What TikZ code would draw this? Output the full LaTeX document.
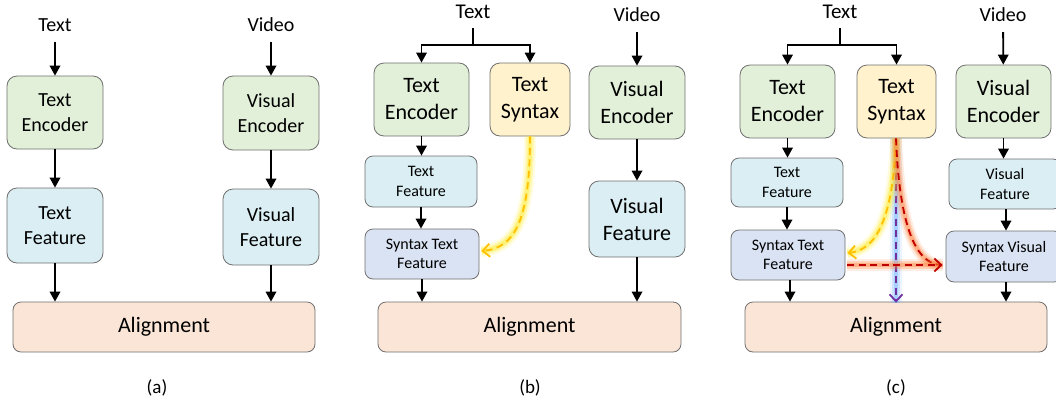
\documentclass[tikz,border=0pt]{standalone}
\usepackage{fontspec}
\setmainfont{Carlito}
\usetikzlibrary{arrows.meta,calc}
\definecolor{encfill}{HTML}{E2F0D9}
\definecolor{featfill}{HTML}{DAEEF3}
\definecolor{synfeat}{HTML}{DAE3F3}
\definecolor{synfill}{HTML}{FFF2CC}
\definecolor{alfill}{HTML}{FBE5D6}
\definecolor{bord}{HTML}{6F6F6F}
\definecolor{ylw}{HTML}{FFC000}
\definecolor{ylwglow}{HTML}{FFEA20}
\definecolor{rd}{HTML}{C00000}
\definecolor{rdglow}{HTML}{FF7A30}
\definecolor{prp}{HTML}{7030A0}
\definecolor{bluglow}{HTML}{6FAEFF}
\begin{document}
\begin{tikzpicture}[x=1pt,y=-1pt,
  box/.style={draw=bord, line width=0.8pt, rounded corners=10pt, align=center, inner sep=0pt},
  sz/.style 2 args={minimum width=#1pt, minimum height=#2pt},
  enc/.style={box, fill=encfill},
  feat/.style={box, fill=featfill},
  sfeat/.style={box, fill=synfeat, rounded corners=8pt},
  syn/.style={box, fill=synfill},
  algn/.style={box, fill=alfill, rounded corners=8pt, font=\fontsize{22}{26}\selectfont},
  fa/.style={font=\fontsize{20}{25}\selectfont},
  fb/.style={font=\fontsize{22}{27}\selectfont},
  fs/.style={font=\fontsize{16}{19.5}\selectfont},
  lbl/.style={inner sep=0pt},
  subcap/.style={inner sep=0pt, font=\fontsize{19}{23}\selectfont},
  arr/.style={line width=1.8pt, -{Triangle[length=10pt,width=10.5pt]}},
  ln/.style={line width=1.8pt},
  glow/.style={preaction={draw, solid, -, line width=12pt, opacity=.14, color=#1},
               preaction={draw, solid, -, line width=8pt, opacity=.24, color=#1},
               preaction={draw, solid, -, line width=4.5pt, opacity=.38, color=#1}},
  dsh/.style={line width=1.8pt, dash pattern=on 7pt off 4.5pt},
  barb/.style={-{Straight Barb[length=7pt,width=13pt]}}
]
\useasboundingbox (0,0) rectangle (1056,405);

% ---------- panel (a)
\node[lbl, fa] (txtA) at (55,25) {Text};
\node[lbl, fa] (vidA) at (271,25) {Video};
\node[enc, fa, sz={96}{73}] (teA) at (55,112.5) {Text\\Encoder};
\node[feat, fa, sz={96}{75}] (tfA) at (55,225.5) {Text\\Feature};
\node[enc, fa, sz={96}{74}] (veA) at (271,113) {Visual\\Encoder};
\node[feat, fa, sz={96}{76}] (vfA) at (271,227) {Visual\\Feature};
\node[algn, sz={302}{50}] (alA) at (164,327) {Alignment};
\node[subcap] (capA) at (157,388) {(a)};
\draw[arr, shorten <=10pt] (txtA) -- (teA);
\draw[arr, shorten <=10pt] (vidA) -- (veA);
\draw[arr] (teA) -- (tfA);
\draw[arr] (veA) -- (vfA);
\draw[arr] (tfA.south) -- (tfA.south |- alA.north);
\draw[arr] (vfA.south) -- (vfA.south |- alA.north);

% ---------- panel (b)
\node[lbl, font=\fontsize{21}{25}\selectfont] (txtB) at (473,12) {Text};
\node[lbl, font=\fontsize{20}{24}\selectfont] (vidB) at (637,15) {Video};
\coordinate (brB) at (473,45);
\node[enc, fb, sz={95}{73}] (teB) at (421.5,99.5) {Text\\Encoder};
\node[syn, fb, sz={80}{73}] (tsB) at (530,99.5) {Text\\Syntax};
\node[enc, fb, sz={96}{73}] (veB) at (637,102.5) {Visual\\Encoder};
\node[feat, fb, sz={96}{76}] (vfB) at (637,219) {Visual\\Feature};
\node[feat, fs, sz={112}{51}, rounded corners=8pt] (tfB) at (421,181.5) {Text\\Feature};
\node[sfeat, fs, sz={114}{50}] (stB) at (422,254) {Syntax Text\\Feature};
\node[algn, sz={303}{50}] (alB) at (529.5,327) {Alignment};
\node[subcap] (capB) at (530,388) {(b)};
\draw[ln, shorten <=9pt] (txtB) -- (brB);
\draw[arr] (brB) -| (teB.north);
\draw[arr] (brB) -| (tsB.north);
\draw[arr, shorten <=10pt] (vidB) -- (veB);
\draw[arr] (teB) -- (teB |- tfB.north);
\draw[arr] (tfB) -- (tfB |- stB.north);
\draw[arr] (stB.south) -- (stB.south |- alB.north);
\draw[arr] (veB) -- (vfB);
\draw[arr] (vfB.south) -- (vfB.south |- alB.north);
\draw[dsh, ylw, barb, glow=ylwglow] (tsB.south) .. controls (530,215) and (517,248) .. ([xshift=2pt,yshift=3pt]stB.east);

% ---------- panel (c)
\node[lbl, font=\fontsize{21}{25}\selectfont] (txtC) at (840,12) {Text};
\node[lbl, font=\fontsize{20}{24}\selectfont] (vidC) at (1003,15) {Video};
\coordinate (brC) at (840,45);
\node[enc, fb, sz={95}{73}] (teC) at (787.5,101.5) {Text\\Encoder};
\node[syn, fb, sz={79}{73}] (tsC) at (896.5,101.5) {Text\\Syntax};
\node[enc, fb, sz={95}{73}] (veC) at (1003.5,101.5) {Visual\\Encoder};
\node[feat, fs, sz={112}{49}, rounded corners=8pt] (tfC) at (787,182.5) {Text\\Feature};
\node[sfeat, fs, sz={114}{50}] (stC) at (788,255) {Syntax Text\\Feature};
\node[feat, fs, sz={112}{50}, rounded corners=8pt] (vfC) at (1005,184) {Visual\\Feature};
\node[sfeat, fs, sz={116}{51}] (svC) at (1004,256.5) {Syntax Visual\\Feature};
\node[algn, sz={302}{50}] (alC) at (896,327) {Alignment};
\node[subcap] (capC) at (896,388) {(c)};
\draw[ln, shorten <=9pt] (txtC) -- (brC);
\draw[arr] (brC) -| (teC.north);
\draw[arr] (brC) -| (tsC.north);
\draw[arr, shorten <=10pt] (vidC) -- (veC);
\draw[arr] (teC) -- (teC |- tfC.north);
\draw[arr] (tfC) -- (tfC |- stC.north);
\draw[arr] ([xshift=2pt]stC.south) -- ([xshift=2pt]stC.south |- alC.north);
\draw[arr] (veC) -- (veC |- vfC.north);
\draw[arr] (1006,0 |- vfC.south) -- (1006,0 |- svC.north);
\draw[arr] (1006,0 |- svC.south) -- (1006,0 |- alC.north);
% coloured connectors
\coordinate (rs) at ([xshift=2pt,yshift=-10pt]stC.east);
\coordinate (re) at (rs -| svC.west);
\draw[dsh, prp, barb, glow=bluglow] ([xshift=-0.5pt]tsC.south) -- ([xshift=-0.5pt,yshift=-1pt]tsC.south |- alC.north);
\draw[dsh, ylw, barb, glow=ylwglow] ([xshift=-0.5pt]tsC.south) .. controls (893,222) and (875,250) .. ([xshift=2pt,yshift=2pt]stC.east);
\draw[dsh, rd, glow=rdglow] ([xshift=-0.5pt]tsC.south) .. controls (899,215) and (912,262) .. ([xshift=-6pt]re);
\draw[dsh, rd, barb, glow=rdglow] (rs) -- ([xshift=-3pt]re);
\end{tikzpicture}
\end{document}
